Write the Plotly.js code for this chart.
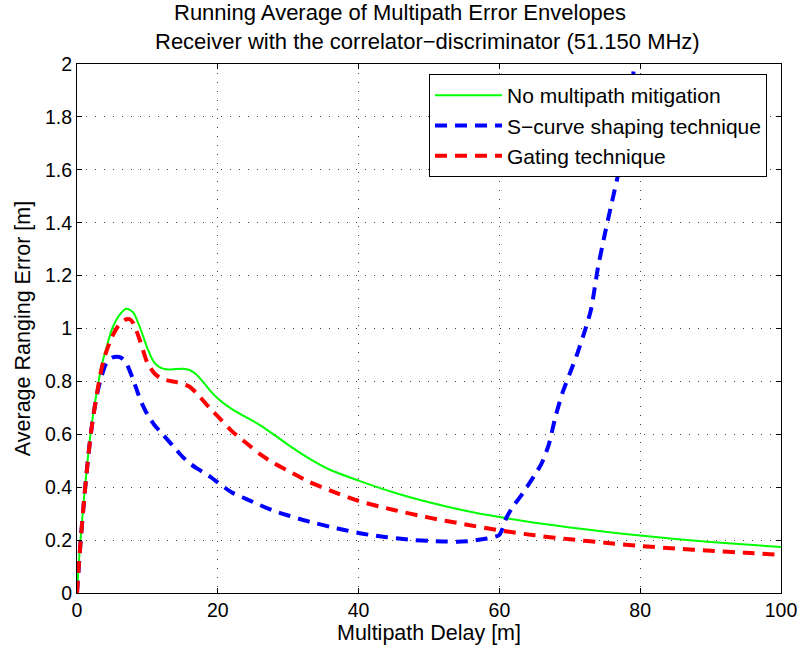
<!DOCTYPE html>
<html>
<head>
<meta charset="utf-8">
<script src="https://cdn.plot.ly/plotly-3.0.1.min.js"></script>
<style>html,body{margin:0;padding:0;background:#fff;}#chart{width:799px;height:652px;}</style>
</head>
<body>
<div id="chart"></div>
<script>
// Multipath delay [m] and average ranging error [m]
const greenX = [0,0.25,0.5,1,1.5,2,2.5,3,3.5,4,5,6,7,8,9,10,11,12,13,14,15,16,17,18,19,20,22,24,26,28,30,33,36,40,45,50,55,60,65,70,75,80,85,90,95,100];
const greenY = [0,0.11,0.2,0.36,0.5,0.62,0.71,0.79,0.86,0.91,1.0,1.05,1.075,1.06,1.0,0.925,0.87,0.85,0.845,0.847,0.848,0.843,0.825,0.795,0.762,0.735,0.695,0.665,0.635,0.598,0.56,0.508,0.465,0.425,0.38,0.343,0.312,0.287,0.266,0.248,0.232,0.217,0.204,0.193,0.183,0.174];

const blueX = [0,0.5,1,1.5,2,2.5,3,3.5,4,4.5,5,6,6.5,7,8,9,10,11,12,13,14,15,16,17,18,19,20,22,24,26,28,30,32,34,36,38,40,42,44,46,48,50,52,54,56,58,59,60,61,62,63,64,65,66,67,68,69,70,71,72,73,74,75,76,77,78,79,80];
const blueY = [0,0.19,0.35,0.49,0.61,0.7,0.77,0.82,0.86,0.88,0.89,0.892,0.885,0.87,0.805,0.73,0.675,0.635,0.605,0.575,0.545,0.515,0.49,0.472,0.455,0.438,0.418,0.38,0.356,0.332,0.31,0.293,0.277,0.263,0.25,0.238,0.227,0.218,0.211,0.205,0.2,0.197,0.195,0.194,0.197,0.205,0.21,0.22,0.285,0.33,0.365,0.405,0.445,0.49,0.56,0.67,0.76,0.83,0.9,0.98,1.07,1.23,1.36,1.48,1.6,1.76,1.96,2.15];

const redX = [0,0.25,0.5,1,1.5,2,2.5,3,3.5,4,5,6,7,7.5,8,9,10,11,12,13,14,15,16,17,18,19,20,22,24,26,28,30,33,36,40,45,50,55,60,65,70,75,80,85,90,95,100];
const redY = [0,0.1,0.19,0.35,0.49,0.61,0.7,0.78,0.85,0.9,0.97,1.015,1.035,1.035,1.02,0.95,0.87,0.83,0.81,0.803,0.798,0.79,0.78,0.755,0.725,0.695,0.668,0.612,0.568,0.525,0.49,0.462,0.42,0.387,0.348,0.314,0.285,0.26,0.237,0.218,0.203,0.19,0.178,0.168,0.16,0.152,0.144];

const seriesNames = ["No multipath mitigation", "S\u2212curve shaping technique", "Gating technique"];
const xTicks = [0,20,40,60,80,100];
const yTicks = [0,0.2,0.4,0.6,0.8,1,1.2,1.4,1.6,1.8,2];
const yTickText = ["0","0.2","0.4","0.6","0.8","1","1.2","1.4","1.6","1.8","2"];

const FONT = "Liberation Sans, Arial, sans-serif";

const traces = [
  {x: greenX, y: greenY, name: seriesNames[0], mode: "lines", line: {color: "#00ff00", width: 2, shape: "spline", smoothing: 0.7}},
  {x: blueX, y: blueY, name: seriesNames[1], mode: "lines", line: {color: "#0000ff", width: 4, dash: "12px,8px", shape: "spline", smoothing: 0.7}},
  {x: redX, y: redY, name: seriesNames[2], mode: "lines", line: {color: "#ff0000", width: 4, dash: "12px,8px", shape: "spline", smoothing: 0.7}}
];

const axisCommon = {
  showline: true, linecolor: "#000", linewidth: 1, mirror: "ticks",
  ticks: "inside", ticklen: 5, tickcolor: "#000", automargin: false,
  showgrid: true, gridcolor: "#444", griddash: "1px,8px", gridwidth: 1,
  zeroline: false, tickfont: {family: FONT, size: 19.5, color: "#000"}
};

const layout = {
  width: 799, height: 652,
  margin: {l: 77, r: 18, t: 64, b: 59},
  paper_bgcolor: "#fff", plot_bgcolor: "#fff",
  showlegend: true,
  xaxis: Object.assign({}, axisCommon, {
    range: [0, 100], tickvals: xTicks, ticktext: xTicks.map(String),
    title: {text: "Multipath Delay [m]", font: {family: FONT, size: 21.5, color: "#000"}, standoff: 4}
  }),
  yaxis: Object.assign({}, axisCommon, {
    range: [0, 2], tickvals: yTicks, ticktext: yTickText,
    title: {text: "Average Ranging Error [m]", font: {family: FONT, size: 21.5, color: "#000"}, standoff: 8}
  }),
  legend: {
    x: (767 - 77) / 704, y: (593 - 74) / 529, xanchor: "right", yanchor: "top",
    bgcolor: "#fff", bordercolor: "#000", borderwidth: 1, itemwidth: 67,
    font: {family: FONT, size: 21, color: "#000"}
  },
  annotations: [
    {text: "Running Average of Multipath Error Envelopes", xref: "paper", yref: "paper",
     x: (399.5 - 77) / 704, y: (593 - 13) / 529, xanchor: "center", yanchor: "middle",
     showarrow: false, font: {family: FONT, size: 22, color: "#000"}},
    {text: "Receiver with the correlator\u2212discriminator (51.150 MHz)", xref: "paper", yref: "paper",
     x: (427.5 - 77) / 704, y: (593 - 41) / 529, xanchor: "center", yanchor: "middle",
     showarrow: false, font: {family: FONT, size: 22, color: "#000"}}
  ]
};

Plotly.newPlot("chart", traces, layout, {displayModeBar: false, staticPlot: true});
</script>
</body>
</html>
